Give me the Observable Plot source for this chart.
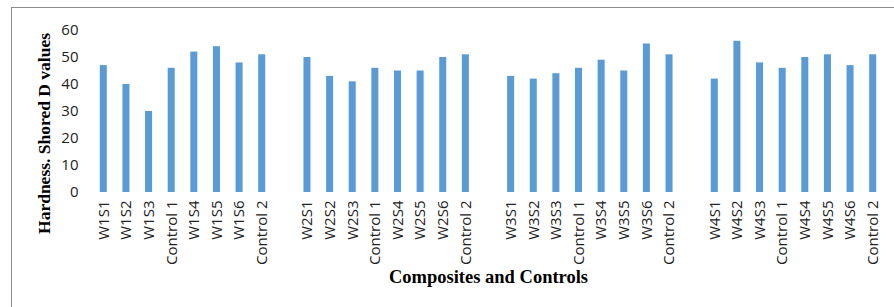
<!DOCTYPE html>
<html>
<head>
<meta charset="utf-8">
<script src="https://cdn.jsdelivr.net/npm/d3@7"></script>
<script src="https://cdn.jsdelivr.net/npm/@observablehq/plot@0.6"></script>
<style>
  html, body { margin: 0; padding: 0; background: #fff; }
  #wrap { position: relative; width: 894px; height: 307px; overflow: hidden; }
  #frame { position: absolute; left: 11px; top: 7px; width: 900px; height: 320px;
           border-left: 1px solid #8c8c8c; border-top: 1px solid #8c8c8c; pointer-events: none; }
</style>
</head>
<body>
<div id="wrap"><div id="frame"></div></div>
<script>
const groups = ["W1", "W2", "W3", "W4"];
const w1Labels = ["W1S1", "W1S2", "W1S3", "Control 1", "W1S4", "W1S5", "W1S6", "Control 2"];
const w2Labels = ["W2S1", "W2S2", "W2S3", "Control 1", "W2S4", "W2S5", "W2S6", "Control 2"];
const w3Labels = ["W3S1", "W3S2", "W3S3", "Control 1", "W3S4", "W3S5", "W3S6", "Control 2"];
const w4Labels = ["W4S1", "W4S2", "W4S3", "Control 1", "W4S4", "W4S5", "W4S6", "Control 2"];
const w1Values = [47, 40, 30, 46, 52, 54, 48, 51];
const w2Values = [50, 43, 41, 46, 45, 45, 50, 51];
const w3Values = [43, 42, 44, 46, 49, 45, 55, 51];
const w4Values = [42, 56, 48, 46, 50, 51, 47, 51];
const yTicks = [0, 10, 20, 30, 40, 50, 60];
const yTitle = "Hardness. Shored D values";
const xTitle = "Composites and Controls";

const labelSets = [w1Labels, w2Labels, w3Labels, w4Labels];
const valueSets = [w1Values, w2Values, w3Values, w4Values];

const data = [];
const domain = [];
groups.forEach((g, gi) => {
  labelSets[gi].forEach((lab, i) => {
    const key = g + "|" + lab;
    domain.push(key);
    data.push({key, value: valueSets[gi][i]});
  });
  if (gi < groups.length - 1) domain.push("gap" + gi);
});

const tickFmt = d => d.startsWith("gap") ? "" : d.split("|")[1];

const chart = Plot.plot({
  width: 894,
  height: 307,
  marginTop: 30,
  marginBottom: 115,
  marginLeft: 92,
  marginRight: 10,
  style: {background: "transparent"},
  x: {type: "band", domain, paddingInner: 0.69, paddingOuter: 0.345, round: false, axis: null},
  y: {domain: [0, 60], axis: null},
  marks: [
    Plot.barY(data, {x: "key", y: "value", fill: "#5B9BD5"}),
    Plot.axisY({ticks: yTicks, tickSize: 0, tickPadding: 14, label: null,
      fontSize: 15, fontFamily: "Open Sans", fill: "#222"}),
    Plot.axisX({tickFormat: tickFmt, tickRotate: -90, tickSize: 0, tickPadding: 8, label: null,
      fontSize: 15, fontFamily: "Open Sans", fill: "#222"}),
    Plot.text([yTitle], {frameAnchor: "left", dx: -48, dy: 22, rotate: -90,
      fontFamily: "Liberation Serif", fontWeight: "bold", fontSize: 17.5, fill: "#000", textAnchor: "middle"}),
    Plot.text([xTitle], {frameAnchor: "bottom", dy: 85, lineAnchor: "middle",
      fontFamily: "Liberation Serif", fontWeight: "bold", fontSize: 18.5, fill: "#000"})
  ]
});
document.getElementById("wrap").insertBefore(chart, document.getElementById("frame"));
</script>
</body>
</html>
